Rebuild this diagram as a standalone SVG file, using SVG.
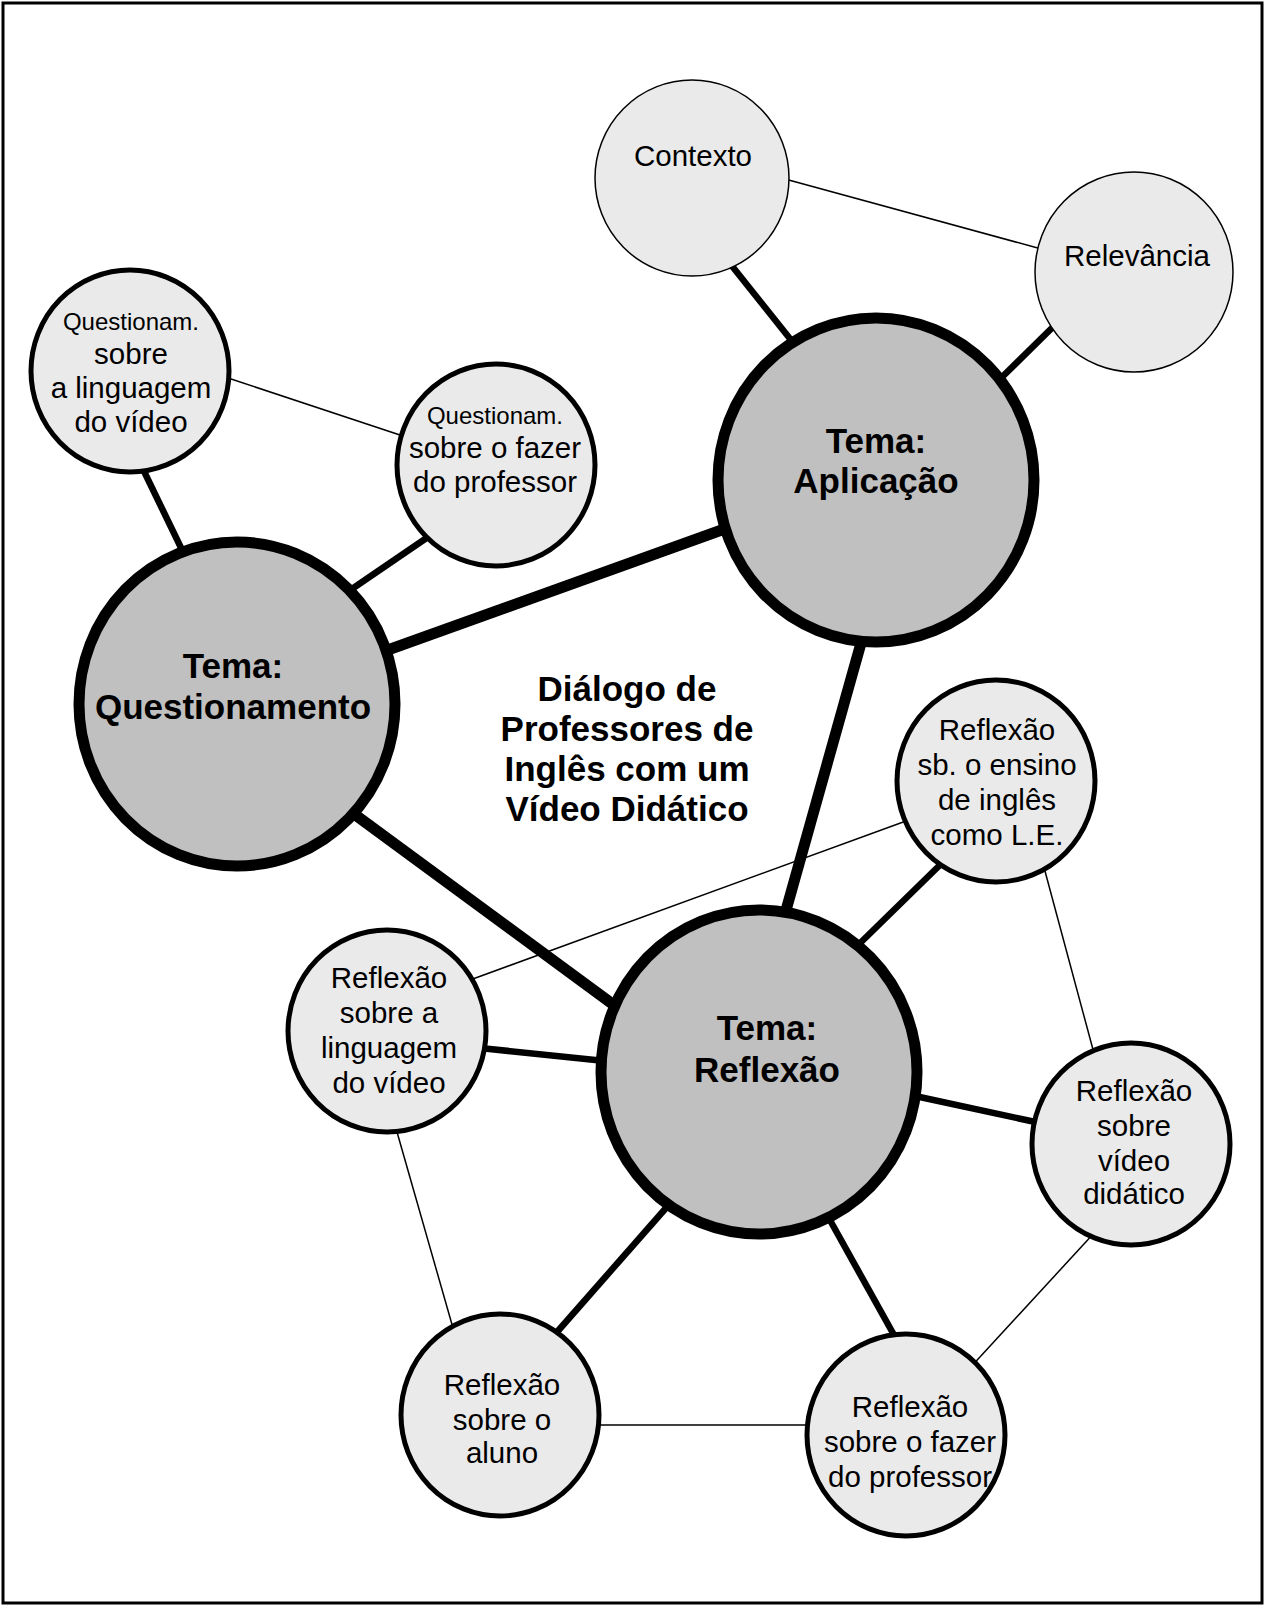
<svg xmlns="http://www.w3.org/2000/svg" width="1265" height="1606" viewBox="0 0 1265 1606">
<style>
.t{font-family:"Liberation Sans",Arial,sans-serif;font-size:29.5px;text-anchor:middle;fill:#000}
.s{font-size:24px}
.b{font-family:"Liberation Sans",Arial,sans-serif;font-size:35px;font-weight:bold;text-anchor:middle;fill:#000}
.tema{fill:#c0c0c0;stroke:#000;stroke-width:11}
.sub{fill:#eaeaea;stroke:#000;stroke-width:5}
.subt{fill:#eaeaea;stroke:#000;stroke-width:1.5}
.thick{stroke:#000;stroke-width:11;stroke-linecap:butt}
.med{stroke:#000;stroke-width:6.5}
.thin{stroke:#000;stroke-width:1.5}
</style>
<rect x="0" y="0" width="1265" height="1606" fill="#fff"/>
<rect x="3" y="3" width="1259" height="1600" fill="none" stroke="#000" stroke-width="3"/>
<g id="connectors">
<line class="thick" x1="385" y1="651" x2="730" y2="527"/>
<line class="thick" x1="350" y1="811" x2="622" y2="1011"/>
<line class="thick" x1="863" y1="636" x2="783" y2="921"/>
<line class="med" x1="728" y1="261" x2="795" y2="345"/>
<line class="med" x1="1058" y1="322" x2="995" y2="384"/>
<line class="med" x1="140" y1="463" x2="185" y2="556"/>
<line class="med" x1="428" y1="537" x2="346" y2="593"/>
<line class="med" x1="942" y1="863" x2="853" y2="950"/>
<line class="med" x1="480" y1="1048" x2="605" y2="1061"/>
<line class="med" x1="915" y1="1096" x2="1040" y2="1123"/>
<line class="med" x1="673" y1="1200" x2="550" y2="1340"/>
<line class="med" x1="826" y1="1213" x2="899" y2="1344"/>
<line class="thin" x1="785" y1="179" x2="1045" y2="250"/>
<line class="thin" x1="222" y1="376" x2="406" y2="437"/>
<line class="thin" x1="470" y1="980" x2="906" y2="821"/>
<line class="thin" x1="1042" y1="860" x2="1095" y2="1057"/>
<line class="thin" x1="1095" y1="1232" x2="968" y2="1370"/>
<line class="thin" x1="594" y1="1425" x2="815" y2="1425"/>
<line class="thin" x1="395" y1="1125" x2="453" y2="1328"/>
</g>
<g id="contexto">
<ellipse class="subt" cx="692" cy="178" rx="97" ry="98"/>
<text class="t" x="693" y="166">Contexto</text>
</g>
<g id="relevancia">
<ellipse class="subt" cx="1134" cy="272" rx="99" ry="100"/>
<text class="t" x="1137" y="266">Relevância</text>
</g>
<g id="tema-aplicacao">
<ellipse class="tema" cx="876" cy="480" rx="158" ry="162"/>
<text class="b" x="876" y="453">Tema:</text>
<text class="b" x="876" y="493">Aplicação</text>
</g>
<g id="quest-linguagem">
<ellipse class="sub" cx="130" cy="371" rx="99" ry="101"/>
<text class="t s" x="131" y="330">Questionam.</text>
<text class="t" x="131" y="364">sobre</text>
<text class="t" x="131" y="398">a linguagem</text>
<text class="t" x="131" y="432">do vídeo</text>
</g>
<g id="quest-fazer">
<ellipse class="sub" cx="496" cy="465" rx="99" ry="101"/>
<text class="t s" x="495" y="424">Questionam.</text>
<text class="t" x="495" y="458">sobre o fazer</text>
<text class="t" x="495" y="492">do professor</text>
</g>
<g id="tema-questionamento">
<ellipse class="tema" cx="237" cy="704" rx="158" ry="162"/>
<text class="b" x="233" y="678">Tema:</text>
<text class="b" x="233" y="719">Questionamento</text>
</g>
<g id="titulo">
<text class="b" x="627" y="701">Diálogo de</text>
<text class="b" x="627" y="741">Professores de</text>
<text class="b" x="627" y="781">Inglês com um</text>
<text class="b" x="627" y="821">Vídeo Didático</text>
</g>
<g id="tema-reflexao">
<ellipse class="tema" cx="759" cy="1072" rx="158" ry="162"/>
<text class="b" x="767" y="1040">Tema:</text>
<text class="b" x="767" y="1082">Reflexão</text>
</g>
<g id="refl-ensino">
<ellipse class="sub" cx="996" cy="781" rx="99" ry="101"/>
<text class="t" x="997" y="740">Reflexão</text>
<text class="t" x="997" y="775">sb. o ensino</text>
<text class="t" x="997" y="810">de inglês</text>
<text class="t" x="997" y="845">como L.E.</text>
</g>
<g id="refl-linguagem">
<ellipse class="sub" cx="387" cy="1031" rx="99" ry="101"/>
<text class="t" x="389" y="988">Reflexão</text>
<text class="t" x="389" y="1023">sobre a</text>
<text class="t" x="389" y="1058">linguagem</text>
<text class="t" x="389" y="1093">do vídeo</text>
</g>
<g id="refl-video">
<ellipse class="sub" cx="1131" cy="1144" rx="99" ry="101"/>
<text class="t" x="1134" y="1101">Reflexão</text>
<text class="t" x="1134" y="1136">sobre</text>
<text class="t" x="1134" y="1171">vídeo</text>
<text class="t" x="1134" y="1204">didático</text>
</g>
<g id="refl-aluno">
<ellipse class="sub" cx="500" cy="1415" rx="99" ry="101"/>
<text class="t" x="502" y="1395">Reflexão</text>
<text class="t" x="502" y="1430">sobre o</text>
<text class="t" x="502" y="1463">aluno</text>
</g>
<g id="refl-fazer">
<ellipse class="sub" cx="906" cy="1435" rx="99" ry="101"/>
<text class="t" x="910" y="1417">Reflexão</text>
<text class="t" x="910" y="1452">sobre o fazer</text>
<text class="t" x="910" y="1487">do professor</text>
</g>
</svg>
